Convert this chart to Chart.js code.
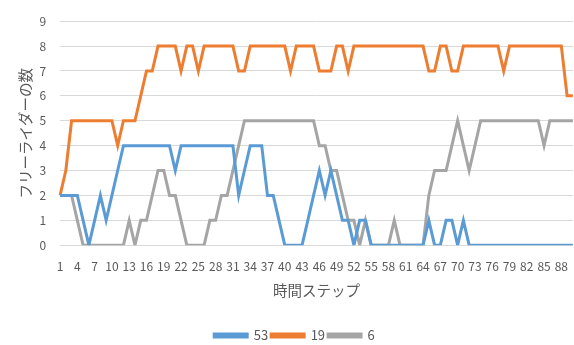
<!DOCTYPE html>
<html>
<head>
<meta charset="utf-8">
<script src="https://cdn.jsdelivr.net/npm/chart.js@4/dist/chart.umd.min.js"></script>
<style>
    body { margin: 0; background: #ffffff; }
    #wrapper { width: 574px; height: 345px; }
</style>
</head>
<body>
<div id="wrapper"><canvas id="myChart" width="574" height="345"></canvas></div>
<script>
"use strict"

// time steps on the x axis
let steps = [1, 2, 3, 4, 5, 6, 7, 8, 9, 10, 11, 12, 13, 14, 15, 16, 17, 18, 19, 20,
    21, 22, 23, 24, 25, 26, 27, 28, 29, 30, 31, 32, 33, 34, 35, 36, 37, 38, 39, 40,
    41, 42, 43, 44, 45, 46, 47, 48, 49, 50, 51, 52, 53, 54, 55, 56, 57, 58, 59, 60,
    61, 62, 63, 64, 65, 66, 67, 68, 69, 70, 71, 72, 73, 74, 75, 76, 77, 78, 79, 80,
    81, 82, 83, 84, 85, 86, 87, 88, 89, 90];

let seriesNames = ["53", "19", "6"];

let values53 = [2, 2, 2, 2, 1, 0, 1, 2, 1, 2,
    3, 4, 4, 4, 4, 4, 4, 4, 4, 4,
    3, 4, 4, 4, 4, 4, 4, 4, 4, 4,
    4, 2, 3, 4, 4, 4, 2, 2, 1, 0,
    0, 0, 0, 1, 2, 3, 2, 3, 2, 1,
    1, 0, 1, 1, 0, 0, 0, 0, 0, 0,
    0, 0, 0, 0, 1, 0, 0, 1, 1, 0,
    1, 0, 0, 0, 0, 0, 0, 0, 0, 0,
    0, 0, 0, 0, 0, 0, 0, 0, 0, 0];

let values19 = [2, 3, 5, 5, 5, 5, 5, 5, 5, 5,
    4, 5, 5, 5, 6, 7, 7, 8, 8, 8,
    8, 7, 8, 8, 7, 8, 8, 8, 8, 8,
    8, 7, 7, 8, 8, 8, 8, 8, 8, 8,
    7, 8, 8, 8, 8, 7, 7, 7, 8, 8,
    7, 8, 8, 8, 8, 8, 8, 8, 8, 8,
    8, 8, 8, 8, 7, 7, 8, 8, 7, 7,
    8, 8, 8, 8, 8, 8, 8, 7, 8, 8,
    8, 8, 8, 8, 8, 8, 8, 8, 6, 6];

let values6 = [2, 2, 2, 1, 0, 0, 0, 0, 0, 0,
    0, 0, 1, 0, 1, 1, 2, 3, 3, 2,
    2, 1, 0, 0, 0, 0, 1, 1, 2, 2,
    3, 4, 5, 5, 5, 5, 5, 5, 5, 5,
    5, 5, 5, 5, 5, 4, 4, 3, 3, 2,
    1, 1, 0, 1, 0, 0, 0, 0, 1, 0,
    0, 0, 0, 0, 2, 3, 3, 3, 4, 5,
    4, 3, 4, 5, 5, 5, 5, 5, 5, 5,
    5, 5, 5, 5, 4, 5, 5, 5, 5, 5];

let yTicks = [0, 1, 2, 3, 4, 5, 6, 7, 8, 9];

let xTitle = "時間ステップ";
let yTitle = "フリーライダーの数";

let colors = ["#5B9BD5", "#ED7D31", "#A5A5A5"];
let textColor = "#595959";
let fontName = "'Noto Sans CJK JP', sans-serif";

function makeDataset(name, values, color) {
    return {
        label: name,
        data: values,
        borderColor: color,
        backgroundColor: color,
        borderWidth: 3,
        pointRadius: 0,
        tension: 0,
        fill: false
    };
}

let ctx = document.getElementById("myChart").getContext("2d");
let myChart = new Chart(ctx, {
    type: "line",
    data: {
        labels: steps,
        datasets: [
            makeDataset(seriesNames[0], values53, colors[0]),
            makeDataset(seriesNames[1], values19, colors[1]),
            makeDataset(seriesNames[2], values6, colors[2])
        ]
    },
    options: {
        responsive: false,
        animation: false,
        layout: { padding: { left: 15, right: 0, top: 3, bottom: -7 } },
        plugins: {
            legend: {
                position: "bottom",
                labels: {
                    boxWidth: 33,
                    boxHeight: 3,
                    padding: 3,
                    color: textColor,
                    font: { family: fontName, size: 13 }
                }
            },
            tooltip: { enabled: false }
        },
        scales: {
            x: {
                offset: false,
                grid: { display: false },
                border: { display: false },
                ticks: {
                    autoSkip: false,
                    maxRotation: 0,
                    minRotation: 0,
                    padding: 6,
                    color: textColor,
                    font: { family: fontName, size: 12 },
                    callback: function (value, index) {
                        return index % 3 == 0 ? steps[index] : null;
                    }
                },
                title: {
                    display: true,
                    text: xTitle,
                    color: textColor,
                    font: { family: fontName, size: 14.5 },
                    padding: { top: 2, bottom: 27 }
                }
            },
            y: {
                min: yTicks[0],
                max: yTicks[yTicks.length - 1],
                grid: { color: "#D9D9D9", lineWidth: 1, drawTicks: false },
                border: { display: false },
                ticks: {
                    stepSize: 1,
                    padding: 14,
                    color: textColor,
                    font: { family: fontName, size: 12 }
                },
                afterBuildTicks: function (axis) {
                    axis.ticks = yTicks.map(function (v) { return { value: v }; });
                },
                title: {
                    display: true,
                    text: yTitle,
                    color: textColor,
                    font: { family: fontName, size: 14.5 },
                    padding: { top: 2, bottom: -9 }
                }
            }
        }
    }
});
</script>
</body>
</html>
